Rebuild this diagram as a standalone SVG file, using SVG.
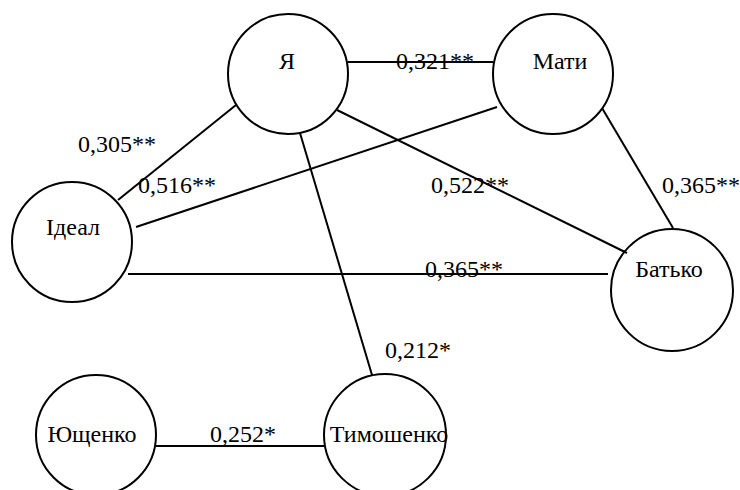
<svg xmlns="http://www.w3.org/2000/svg" width="740" height="490" viewBox="0 0 740 490">
<rect width="740" height="490" fill="#fff"/>
<g id="nodes">
<g id="ya"><circle cx="288" cy="74" r="60" fill="#fff" stroke="#000" stroke-width="2"/><text x="287" y="69" text-anchor="middle" font-family="Liberation Serif" font-size="24">Я</text></g>
<g id="maty"><circle cx="553" cy="74" r="60" fill="#fff" stroke="#000" stroke-width="2"/><text x="560" y="69" text-anchor="middle" font-family="Liberation Serif" font-size="24">Мати</text></g>
<g id="ideal"><circle cx="72" cy="242" r="60" fill="#fff" stroke="#000" stroke-width="2"/><text x="73" y="235" text-anchor="middle" font-family="Liberation Serif" font-size="24">Ідеал</text></g>
<g id="batko"><circle cx="672" cy="290" r="61" fill="#fff" stroke="#000" stroke-width="2"/><text x="669" y="277" text-anchor="middle" font-family="Liberation Serif" font-size="24">Батько</text></g>
<g id="yushchenko"><circle cx="96" cy="435" r="60" fill="#fff" stroke="#000" stroke-width="2"/><text x="92" y="442" text-anchor="middle" font-family="Liberation Serif" font-size="24">Ющенко</text></g>
<g id="tymoshenko"><circle cx="385" cy="435" r="61" fill="#fff" stroke="#000" stroke-width="2"/><text x="389" y="442" text-anchor="middle" font-family="Liberation Serif" font-size="24">Тимошенко</text></g>
</g>
<g id="connectors" stroke="#000" stroke-width="2" fill="none">
<line x1="348" y1="62" x2="493" y2="62"/>
<line x1="337" y1="110" x2="627" y2="253"/>
<line x1="497" y1="107" x2="136" y2="227"/>
<line x1="602" y1="108" x2="673" y2="228"/>
<line x1="236" y1="105" x2="118" y2="200"/>
<line x1="128" y1="274" x2="608" y2="274"/>
<line x1="300" y1="133" x2="372" y2="375"/>
<line x1="156" y1="446" x2="324" y2="446"/>
</g>
<g id="labels">
<text x="396" y="69" font-family="Liberation Serif" font-size="24">0,321**</text>
<text x="78" y="152" font-family="Liberation Serif" font-size="24">0,305**</text>
<text x="138" y="193" font-family="Liberation Serif" font-size="24">0,516**</text>
<text x="431" y="193" font-family="Liberation Serif" font-size="24">0,522**</text>
<text x="662" y="193" font-family="Liberation Serif" font-size="24">0,365**</text>
<text x="425" y="277" font-family="Liberation Serif" font-size="24">0,365**</text>
<text x="385" y="358" font-family="Liberation Serif" font-size="24">0,212*</text>
<text x="210" y="442" font-family="Liberation Serif" font-size="24">0,252*</text>
</g>
</svg>
